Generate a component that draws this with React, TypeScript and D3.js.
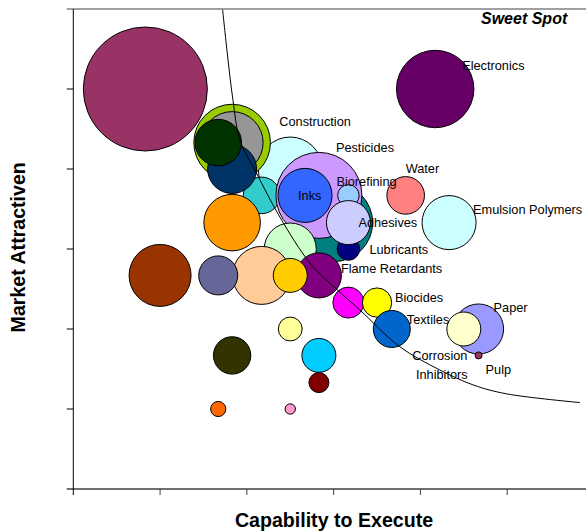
import React from "react";
import * as d3 from "d3";

// ---- data ----
const names = [
  "", "Electronics", "Construction", "", "", "", "", "", "", "",
  "Pesticides", "Inks", "Biorefining", "Lubricants", "Adhesives", "", "", "", "Flame Retardants", "",
  "", "Water", "Emulsion Polymers", "", "Biocides", "Textiles", "Paper", "Corrosion Inhibitors", "Pulp", "",
  "", "", "", "", "",
];
const capability = [
  0.83, 4.17, 2.5, 1.83, 1.83, 2.17, 1.83, 1.67, 1.83, 3.0,
  2.83, 2.67, 3.17, 3.17, 3.17, 2.5, 2.17, 1.67, 2.83, 2.5,
  1.0, 3.83, 4.33, 3.17, 3.5, 3.67, 4.67, 4.5, 4.67, 2.5,
  1.83, 2.83, 2.83, 1.67, 2.5,
];
const attractiveness = [
  5.0, 5.0, 4.0, 4.33, 4.33, 3.67, 4.0, 4.33, 3.33, 3.33,
  3.67, 3.67, 3.67, 3.0, 3.33, 3.0, 2.67, 2.67, 2.67, 2.67,
  2.67, 3.67, 3.33, 2.33, 2.33, 2.0, 2.0, 2.0, 1.67, 2.0,
  1.67, 1.67, 1.33, 1.0, 1.0,
];
const bubbleSize = [
  100, 39, 26.6, 38.2, 25, 8.7, 15.6, 14.1, 20.8, 39.6,
  48.1, 19, 3.0, 3.3, 12.6, 17.6, 21.9, 9.9, 13.2, 7.5,
  25, 9.2, 19, 6.25, 5.6, 8.9, 16.3, 7.5, 0.32, 3.7,
  9.1, 7.5, 2.6, 1.5, 0.7,
];
const colors = [
  "#993366", "#660066", "#CCFFFF", "#99CC00", "#969696", "#33CCCC", "#003366", "#003300", "#FF9900", "#008080",
  "#CC99FF", "#3366FF", "#99CCFF", "#000080", "#CCCCFF", "#CCFFCC", "#FFCC99", "#666699", "#800080", "#FFCC00",
  "#993300", "#FF8080", "#CCFFFF", "#FF00FF", "#FFFF00", "#0066CC", "#9999FF", "#FFFFCC", "#993366", "#FFFF99",
  "#333300", "#00CCFF", "#800000", "#FF6600", "#FF99CC",
];

// sweet-spot boundary curve
const curveX = [1.72, 1.77, 1.84, 1.92, 2.11, 2.38, 2.73, 3.0, 3.3, 3.76, 4.22, 4.61, 4.99, 5.84];
const curveY = [6.0, 5.49, 4.86, 4.36, 3.95, 3.4, 2.82, 2.53, 2.24, 1.78, 1.49, 1.3, 1.19, 1.08];

const xTicks = [0, 1, 2, 3, 4, 5, 6];
const yTicks = [0, 1, 2, 3, 4, 5, 6];

// label layout (pixel offsets from bubble centre)
const labelLayout: Record<string, { dx: number; dy: number; anchor?: string }> = {
  Electronics: { dx: 27, dy: -23 },
  Construction: { dx: -11, dy: -47 },
  Pesticides: { dx: 17, dy: -48 },
  Biorefining: { dx: -12, dy: -14 },
  Water: { dx: 0, dy: -27 },
  Inks: { dx: -7, dy: 0 },
  "Emulsion Polymers": { dx: 24, dy: -13 },
  Adhesives: { dx: 10, dy: 0 },
  Lubricants: { dx: 21, dy: 1 },
  "Flame Retardants": { dx: 22, dy: -7 },
  Biocides: { dx: 18, dy: -5 },
  Textiles: { dx: 15, dy: -9 },
  Paper: { dx: 15, dy: -21 },
  "Corrosion Inhibitors": { dx: -24, dy: 27, anchor: "middle" },
  Pulp: { dx: 7, dy: 14 },
};

const W = 586;
const H = 532;
const FONT = "'Liberation Sans', Arial, Helvetica, sans-serif";

export default function App() {
  const x = d3.scaleLinear().domain([0, 6]).range([73.3, 594]);
  const y = d3.scaleLinear().domain([0, 6]).range([489, 9]);
  const r = d3.scaleSqrt().domain([0, 100]).range([0, 62]);

  const pts = curveX.map((v, i) => [v, curveY[i]] as [number, number]);
  const line = d3
    .line<[number, number]>()
    .x((d) => x(d[0]))
    .y((d) => y(d[1]))
    .curve(d3.curveCatmullRom.alpha(0.5));

  const bubbles = capability.map((c, i) => ({
    name: names[i],
    cx: x(c),
    cy: y(attractiveness[i]),
    r: r(bubbleSize[i]),
    color: colors[i],
  }));

  return (
    <svg
      width={W}
      height={H}
      style={{ position: "absolute", left: 0, top: 0, display: "block", background: "#fff" }}
      fontFamily={FONT}
    >
      <defs>
        <clipPath id="plot">
          <rect x={73.3} y={0} width={W} height={489} />
        </clipPath>
      </defs>
      {/* bubbles */}
      <g clipPath="url(#plot)">
        {bubbles.map((b, i) => (
          <circle key={i} cx={b.cx} cy={b.cy} r={b.r} fill={b.color} stroke="#000" strokeWidth={1} />
        ))}
        <path d={line(pts) || ""} fill="none" stroke="#000" strokeWidth={1} />
      </g>

      {/* labels */}
      {bubbles.map((b, i) => {
        if (!b.name) return null;
        const L = labelLayout[b.name];
        if (!L) return null;
        if (b.name === "Corrosion Inhibitors") {
          return (
            <text key={i} x={b.cx + L.dx} y={b.cy + L.dy} fontSize={12.75} textAnchor="middle" fill="#000">
              <tspan x={b.cx + L.dx} dy="0.35em">Corrosion</tspan>
              <tspan x={b.cx + L.dx + 2} dy="18.7">Inhibitors</tspan>
            </text>
          );
        }
        return (
          <text key={i} x={b.cx + L.dx} y={b.cy + L.dy} dy="0.35em" fontSize={12.75} fill="#000" textAnchor={L.anchor || "start"}>
            {b.name}
          </text>
        );
      })}

      {/* axes */}
      <line x1={66.7} x2={W} y1={y(6)} y2={y(6)} stroke="#808080" strokeWidth={1.5} />
      <line x1={66.7} x2={W} y1={y(0)} y2={y(0)} stroke="#404040" strokeWidth={1.5} />
      <line x1={x(0)} x2={x(0)} y1={y(6)} y2={495} stroke="#000" strokeWidth={1} />
      {yTicks.slice(1, 6).map((t) => (
        <line key={"yt" + t} x1={66.7} x2={x(0)} y1={y(t)} y2={y(t)} stroke="#000" strokeWidth={1} />
      ))}
      {xTicks.slice(1).map((t) => (
        <line key={"xt" + t} x1={x(t)} x2={x(t)} y1={y(0)} y2={495} stroke="#404040" strokeWidth={1} />
      ))}

      <text x={481} y={24} fontSize={16} fontWeight="bold" fontStyle="italic" fill="#000">
        Sweet Spot
      </text>

      <text x={334} y={526.5} fontSize={19.6} fontWeight="bold" textAnchor="middle" fill="#000">
        Capability to Execute
      </text>
      <text
        transform={`translate(25, 247.3) rotate(-90)`}
        fontSize={19.6}
        fontWeight="bold"
        textAnchor="middle"
        fill="#000"
      >
        Market Attractiven
      </text>
    </svg>
  );
}
